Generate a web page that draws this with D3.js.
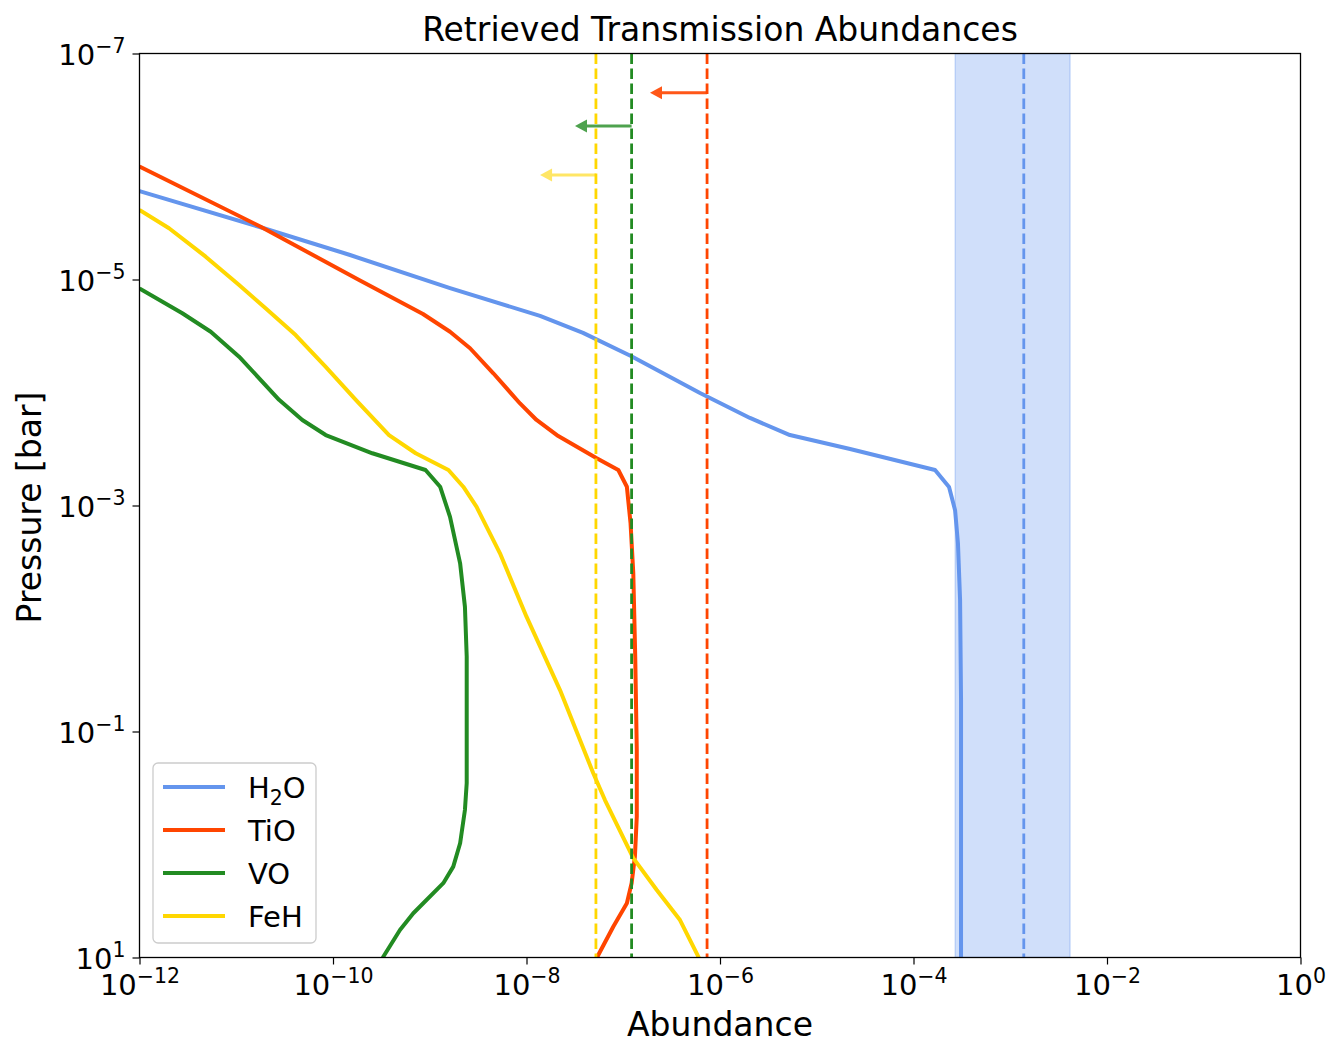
<!DOCTYPE html>
<html lang="en">
<head>
  <meta charset="UTF-8">
  <title>Retrieved Transmission Abundances</title>
  <style>
      body { margin: 0; background: #fff; }
      svg text { font-family: "DejaVu Sans", sans-serif; fill: #000; }
      .axis path { display: none; }
      .axis line { stroke: #000; stroke-width: 1.2; }
  </style>
</head>
<body>
<div id="chart"></div>
<script src="https://d3js.org/d3.v7.min.js"></script>
<script>
  // profiles: abundance vs pressure [bar]
  const h2oAbund = [1e-12, 1.89e-11, 1.50e-10, 1.62e-9, 1.38e-8, 3.84e-8, 1.20e-7, 6.21e-7, 2.04e-6, 5.28e-6, 2.21e-5, 1.67e-4, 2.33e-4, 2.69e-4, 2.88e-4, 3.03e-4, 3.10e-4, 3.10e-4];
  const h2oPres  = [1.65e-6, 3.50e-6, 6.07e-6, 1.19e-5, 2.10e-5, 2.97e-5, 4.75e-5, 1.01e-4, 1.68e-4, 2.38e-4, 3.16e-4, 4.85e-4, 6.85e-4, 1.10e-3, 2.15e-3, 6.85e-3, 5.26e-2, 10];

  const tioAbund = [1e-12, 1.79e-11, 1.86e-10, 8.51e-10, 1.62e-9, 2.61e-9, 4.54e-9, 8.57e-9, 1.27e-8, 2.13e-8, 5.32e-8, 8.89e-8, 1.09e-7, 1.19e-7, 1.27e-7, 1.33e-7, 1.38e-7, 1.38e-7, 1.32e-7, 1.22e-7, 1.09e-7, 7.88e-8, 5.52e-8, 5.2e-8];
  const tioPres  = [1.00e-6, 3.41e-6, 1.01e-5, 2.02e-5, 2.90e-5, 4.06e-5, 6.76e-5, 1.25e-4, 1.75e-4, 2.43e-4, 3.82e-4, 4.85e-4, 6.82e-4, 1.44e-3, 3.98e-3, 2.18e-2, 0.146, 0.567, 1.28, 2.20, 3.31, 5.34, 9.51, 10.5];

  const voAbund = [1e-12, 2.77e-12, 5.45e-12, 1.07e-11, 2.77e-11, 4.82e-11, 8.41e-11, 2.55e-10, 9.04e-10, 1.28e-9, 1.62e-9, 2.06e-9, 2.31e-9, 2.41e-9, 2.41e-9, 2.31e-9, 2.06e-9, 1.75e-9, 1.38e-9, 6.76e-10, 4.92e-10, 3.31e-10, 3.2e-10];
  const voPres  = [1.20e-5, 1.99e-5, 2.90e-5, 4.82e-5, 1.16e-4, 1.75e-4, 2.38e-4, 3.45e-4, 4.85e-4, 6.82e-4, 1.26e-3, 3.25e-3, 7.87e-3, 2.18e-2, 0.286, 0.495, 0.975, 1.57, 2.20, 4.06, 5.71, 9.84, 10.5];

  const fehAbund = [1e-12, 2.02e-12, 4.83e-12, 1.07e-11, 2.01e-11, 4.11e-11, 8.41e-11, 1.72e-10, 3.79e-10, 7.16e-10, 1.56e-9, 2.22e-9, 3.05e-9, 5.32e-9, 1.00e-8, 2.22e-8, 4.90e-8, 6.47e-8, 1.27e-7, 2.22e-7, 3.86e-7, 5.97e-7, 6.2e-7];
  const fehPres  = [2.43e-6, 3.52e-6, 6.28e-6, 1.12e-5, 1.80e-5, 3.10e-5, 5.92e-5, 1.16e-4, 2.38e-4, 3.45e-4, 4.85e-4, 6.82e-4, 1.03e-3, 2.65e-3, 9.64e-3, 4.30e-2, 0.234, 0.404, 1.32, 2.53, 4.66, 9.84, 10.5];

  // retrieved values: H2O median with 1-sigma band, upper limits for the rest
  const species = ["H2O", "TiO", "VO", "FeH"];
  const retrieved = [1.38e-3, 7.35e-7, 1.22e-7, 5.22e-8];
  const h2oBand = [2.70e-4, 4.15e-3];
  const limitSpecies = ["TiO", "VO", "FeH"];
  const limitArrowPres = [2.22e-7, 4.39e-7, 1.19e-6];
  const limitArrowTip = [1.89e-7, 3.17e-8, 1.38e-8];

  const xTicks = [1e-12, 1e-10, 1e-8, 1e-6, 1e-4, 1e-2, 1e0];
  const xTickExp = ["\u221212", "\u221210", "\u22128", "\u22126", "\u22124", "\u22122", "0"];
  const yTicks = [1e-7, 1e-5, 1e-3, 1e-1, 1e1];
  const yTickExp = ["\u22127", "\u22125", "\u22123", "\u22121", "1"];

  const profiles = {
    H2O: {x: h2oAbund, p: h2oPres},
    TiO: {x: tioAbund, p: tioPres},
    VO: {x: voAbund, p: voPres},
    FeH: {x: fehAbund, p: fehPres}
  };
  const color = {H2O: "#6495ED", TiO: "#FF4500", VO: "#228B22", FeH: "#FFD700"};
  const arrowOpacity = {TiO: 0.9, VO: 0.8, FeH: 0.6};

  const W = 1339, H = 1056;
  const margin = {top: 53.5, right: 38.5, bottom: 98.5, left: 139.5},
    width = W - margin.left - margin.right,
    height = H - margin.top - margin.bottom;

  const svg = d3.select("#chart").append("svg")
    .attr("width", W)
    .attr("height", H);

  const g = svg.append("g")
    .attr("transform", `translate(${margin.left},${margin.top})`);

  const x = d3.scaleLog().domain([1e-12, 1e0]).range([0, width]);
  const y = d3.scaleLog().domain([1e-7, 1e1]).range([0, height]);

  svg.append("defs").append("clipPath").attr("id", "plot-clip")
    .append("rect").attr("width", width).attr("height", height);

  const plot = g.append("g").attr("clip-path", "url(#plot-clip)");

  // H2O 1-sigma band
  plot.append("rect")
    .attr("x", x(h2oBand[0]))
    .attr("y", 0)
    .attr("width", x(h2oBand[1]) - x(h2oBand[0]))
    .attr("height", height)
    .attr("fill", color.H2O)
    .attr("fill-opacity", 0.3)
    .attr("stroke", color.H2O)
    .attr("stroke-opacity", 0.3)
    .attr("stroke-width", 1.5);

  const line = d3.line()
    .x(d => x(d[0]))
    .y(d => y(d[1]));

  species.forEach(s => {
    const pts = profiles[s].x.map((v, i) => [v, profiles[s].p[i]]);
    plot.append("path")
      .datum(pts)
      .attr("fill", "none")
      .attr("stroke", color[s])
      .attr("stroke-width", 4)
      .attr("stroke-linejoin", "round")
      .attr("d", line);
  });

  species.forEach((s, i) => {
    plot.append("line")
      .attr("x1", x(retrieved[i])).attr("x2", x(retrieved[i]))
      .attr("y1", 0).attr("y2", height)
      .attr("stroke", color[s])
      .attr("stroke-width", 2.8)
      .attr("stroke-dasharray", "10.5,4.5");
  });

  // upper-limit arrows
  limitSpecies.forEach((s, i) => {
    const x0 = x(retrieved[species.indexOf(s)]);
    const x1 = x(limitArrowTip[i]);
    const yy = y(limitArrowPres[i]);
    const ag = plot.append("g").attr("opacity", arrowOpacity[s]);
    ag.append("line")
      .attr("x1", x0).attr("x2", x1 + 8)
      .attr("y1", yy).attr("y2", yy)
      .attr("stroke", color[s])
      .attr("stroke-width", 3);
    ag.append("path")
      .attr("d", `M${x1},${yy}L${x1 + 12},${yy - 6.5}L${x1 + 12},${yy + 6.5}Z`)
      .attr("fill", color[s]);
  });

  // axes
  const xAxis = g.append("g")
    .attr("class", "axis")
    .attr("transform", `translate(0,${height})`)
    .call(d3.axisBottom(x).tickValues(xTicks).tickSize(7).tickFormat(""));

  xAxis.selectAll(".tick").each(function(d, i) {
    const t = d3.select(this).append("text")
      .attr("y", 37)
      .attr("text-anchor", "middle")
      .style("font-size", "29px");
    t.append("tspan").text("10");
    t.append("tspan").attr("dy", -12).style("font-size", "20.5px").text(xTickExp[i]);
  });

  const yAxis = g.append("g")
    .attr("class", "axis")
    .call(d3.axisLeft(y).tickValues(yTicks).tickSize(7).tickFormat(""));

  yAxis.selectAll(".tick").each(function(d, i) {
    const t = d3.select(this).append("text")
      .attr("x", -14)
      .attr("y", 11)
      .attr("text-anchor", "end")
      .style("font-size", "29px");
    t.append("tspan").text("10");
    t.append("tspan").attr("dy", -12).style("font-size", "20.5px").text(yTickExp[i]);
  });

  // frame
  g.append("rect")
    .attr("width", width)
    .attr("height", height)
    .attr("fill", "none")
    .attr("stroke", "#000")
    .attr("stroke-width", 1.3);

  // legend
  const legend = g.append("g")
    .attr("transform", `translate(${153 - margin.left},${763 - margin.top})`);
  legend.append("rect")
    .attr("width", 163)
    .attr("height", 180)
    .attr("rx", 5)
    .attr("fill", "#fff")
    .attr("fill-opacity", 0.8)
    .attr("stroke", "#cccccc")
    .attr("stroke-width", 1.3);

  species.forEach((s, i) => {
    const row = legend.append("g").attr("transform", `translate(0,${24 + i * 43})`);
    row.append("line")
      .attr("x1", 10).attr("x2", 72)
      .attr("stroke", color[s])
      .attr("stroke-width", 4);
    const t = row.append("text")
      .attr("x", 95)
      .attr("y", 10.5)
      .style("font-size", "29px");
    if (s === "H2O") {
      t.append("tspan").text("H");
      t.append("tspan").attr("dy", 7).style("font-size", "20.5px").text("2");
      t.append("tspan").attr("dy", -7).text("O");
    } else {
      t.text(s);
    }
  });

  // labels
  svg.append("text")
    .attr("x", margin.left + width / 2)
    .attr("y", 41)
    .attr("text-anchor", "middle")
    .style("font-size", "33px")
    .text("Retrieved Transmission Abundances");

  svg.append("text")
    .attr("x", margin.left + width / 2)
    .attr("y", 1036)
    .attr("text-anchor", "middle")
    .style("font-size", "33px")
    .text("Abundance");

  svg.append("text")
    .attr("transform", `translate(41,${margin.top + height / 2 + 2}) rotate(-90)`)
    .attr("text-anchor", "middle")
    .style("font-size", "33px")
    .text("Pressure [bar]");
</script>
</body>
</html>
